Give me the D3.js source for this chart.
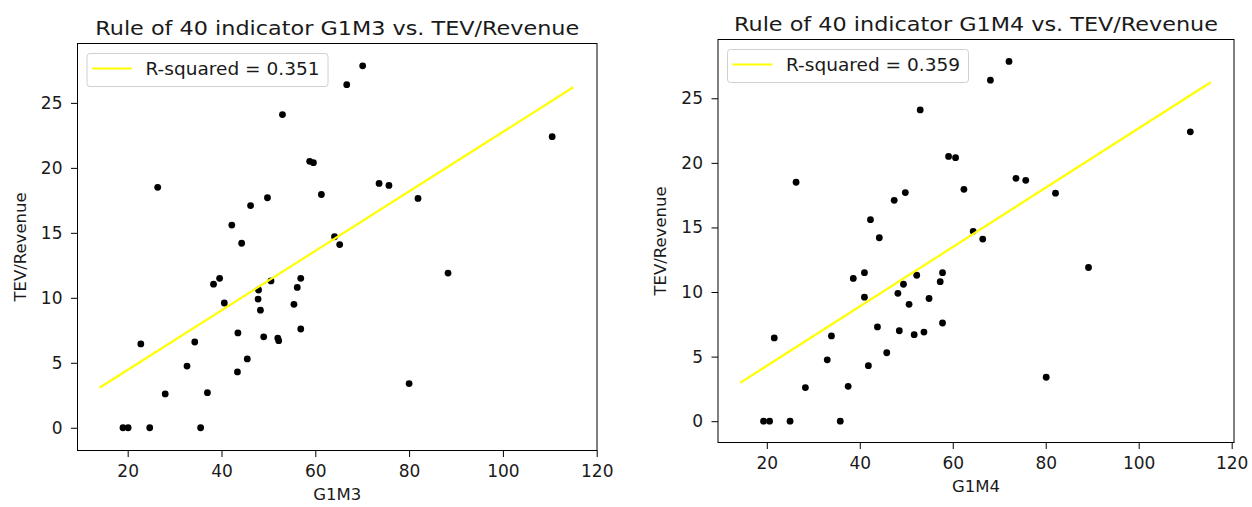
<!DOCTYPE html>
<html>
<head>
<meta charset="utf-8">
<script src="https://cdn.jsdelivr.net/npm/d3@7/dist/d3.min.js"></script>
<style>
  body { margin: 0; background: #fff; }
  svg text { font-family: "DejaVu Sans", sans-serif; fill: #1a1a1a; }
</style>
</head>
<body>
<div id="chart"></div>
<script>
// values
const tevRevenue = [26.4, 24.1, 20.5, 20.4, 18.5, 17.95, 17.7, 17.1, 15.6, 14.2, 14.7, 14.1, 27.85, 22.4, 18.8,
    18.65, 17.65, 11.05, 11.5, 9.6, 11.3, 10.6, 9.9, 9.05, 11.5, 10.8, 9.5, 7.6, 7.3, 7.0,
    6.9, 6.7, 6.45, 6.6, 4.75, 5.3, 4.3, 2.6, 2.7, 0, 0, 0, 0, 11.9, 3.4];
const g1m3 = [66.7, 53.0, 58.8, 59.6, 26.4, 61.3, 49.8, 46.2, 42.2, 44.3, 64.1, 65.2, 70.1, 110.5, 73.6,
    75.7, 81.9, 38.3, 39.6, 40.6, 50.55, 47.9, 47.8, 48.3, 56.9, 56.15, 55.45, 56.9, 43.5, 49.0,
    52.0, 52.2, 22.8, 34.3, 32.65, 45.5, 43.4, 28.0, 37.0, 19.0, 20.1, 24.7, 35.55, 88.3, 80.0];
const g1m4 = [68.1, 53.0, 59.1, 60.6, 26.3, 62.4, 49.8, 47.4, 42.3, 44.2, 64.4, 66.45, 72.1, 111.1, 73.6,
    75.7, 82.1, 38.6, 41.0, 41.0, 52.25, 49.4, 48.2, 50.6, 57.8, 57.3, 54.9, 57.8, 43.8, 48.5,
    53.8, 51.7, 21.6, 33.9, 33.0, 45.8, 41.85, 28.3, 37.5, 19.3, 20.6, 25.0, 35.8, 89.2, 80.1];

// regression line ends
const fitX3 = [14.0, 115.0];
const fitY3 = [3.08, 26.2];
const fitX4 = [14.26, 115.5];
const fitY4 = [2.97, 26.24];

const rSquared = ["0.351", "0.359"];
const xTicks = [20, 40, 60, 80, 100, 120];
const yTicks = [0, 5, 10, 15, 20, 25];

const panels = [
    {name: "G1M3", xs: g1m3, fitX: fitX3, fitY: fitY3, r2: rSquared[0],
     left: 77.5, right: 597, top: 43.5, bottom: 450.5, xDomain: [9.3, 120.06], yDomain: [-1.75, 29.57]},
    {name: "G1M4", xs: g1m4, fitX: fitX4, fitY: fitY4, r2: rSquared[1],
     left: 718, right: 1234, top: 39.5, bottom: 442.5, xDomain: [9.5, 120.5], yDomain: [-1.65, 29.55]}
];

let svg = d3.select("#chart")
    .append("svg")
    .attr("width", 1252)
    .attr("height", 507);

panels.forEach(function(p) {
    let x = d3.scaleLinear().domain(p.xDomain).range([p.left, p.right]);
    let y = d3.scaleLinear().domain(p.yDomain).range([p.bottom, p.top]);
    let g = svg.append("g");

    // dots
    g.selectAll(".dot")
        .data(p.xs.map(function(v, i) { return {x: v, y: tevRevenue[i]}; }))
        .enter()
        .append("circle")
        .attr("cx", function(d) { return x(d.x); })
        .attr("cy", function(d) { return y(d.y); })
        .attr("r", 3.4)
        .attr("fill", "#000");

    // fit line
    g.append("line")
        .attr("x1", x(p.fitX[0])).attr("y1", y(p.fitY[0]))
        .attr("x2", x(p.fitX[1])).attr("y2", y(p.fitY[1]))
        .attr("stroke", "#ffff00")
        .attr("stroke-width", 2.2);

    // axes
    let xa = g.append("g")
        .attr("transform", "translate(0," + p.bottom + ")")
        .call(d3.axisBottom(x).tickValues(xTicks).tickSize(6.5).tickPadding(8));
    let ya = g.append("g")
        .attr("transform", "translate(" + p.left + ",0)")
        .call(d3.axisLeft(y).tickValues(yTicks).tickSize(6.5).tickPadding(8.5));
    [xa, ya].forEach(function(a) {
        a.select(".domain").remove();
        a.selectAll("line").attr("stroke", "#000").attr("stroke-width", 1);
        a.selectAll("text").style("font-size", "17px").attr("fill", "#1a1a1a");
    });

    g.append("rect")
        .attr("x", p.left).attr("y", p.top)
        .attr("width", p.right - p.left).attr("height", p.bottom - p.top)
        .attr("fill", "none")
        .attr("stroke", "#000")
        .attr("stroke-width", 1);

    // title + axis labels
    let cx = (p.left + p.right) / 2;
    g.append("text")
        .attr("x", cx).attr("y", p.top - 9)
        .attr("text-anchor", "middle")
        .attr("textLength", 484)
        .attr("lengthAdjust", "spacingAndGlyphs")
        .style("font-size", "20px")
        .text("Rule of 40 indicator " + p.name + " vs. TEV/Revenue");
    g.append("text")
        .attr("x", cx).attr("y", p.bottom + 49)
        .attr("text-anchor", "middle")
        .style("font-size", "16.5px")
        .text(p.name);
    g.append("text")
        .attr("transform", "translate(" + (p.left - 52) + "," + ((p.top + p.bottom) / 2) + ")rotate(-90)")
        .attr("text-anchor", "middle")
        .style("font-size", "16.5px")
        .text("TEV/Revenue");

    // legend
    let lg = g.append("g").attr("transform", "translate(" + (p.left + 9.5) + "," + (p.top + 10) + ")");
    lg.append("rect")
        .attr("width", 241).attr("height", 33)
        .attr("rx", 3)
        .attr("fill", "#fff")
        .attr("fill-opacity", 0.8)
        .attr("stroke", "#d0d0d0");
    lg.append("line")
        .attr("x1", 5).attr("x2", 45).attr("y1", 15).attr("y2", 15)
        .attr("stroke", "#ffff00").attr("stroke-width", 2.2);
    lg.append("text")
        .attr("x", 58.5).attr("y", 21.5)
        .attr("textLength", 174)
        .attr("lengthAdjust", "spacingAndGlyphs")
        .style("font-size", "17px")
        .text("R-squared = " + p.r2);
});
</script>
</body>
</html>
